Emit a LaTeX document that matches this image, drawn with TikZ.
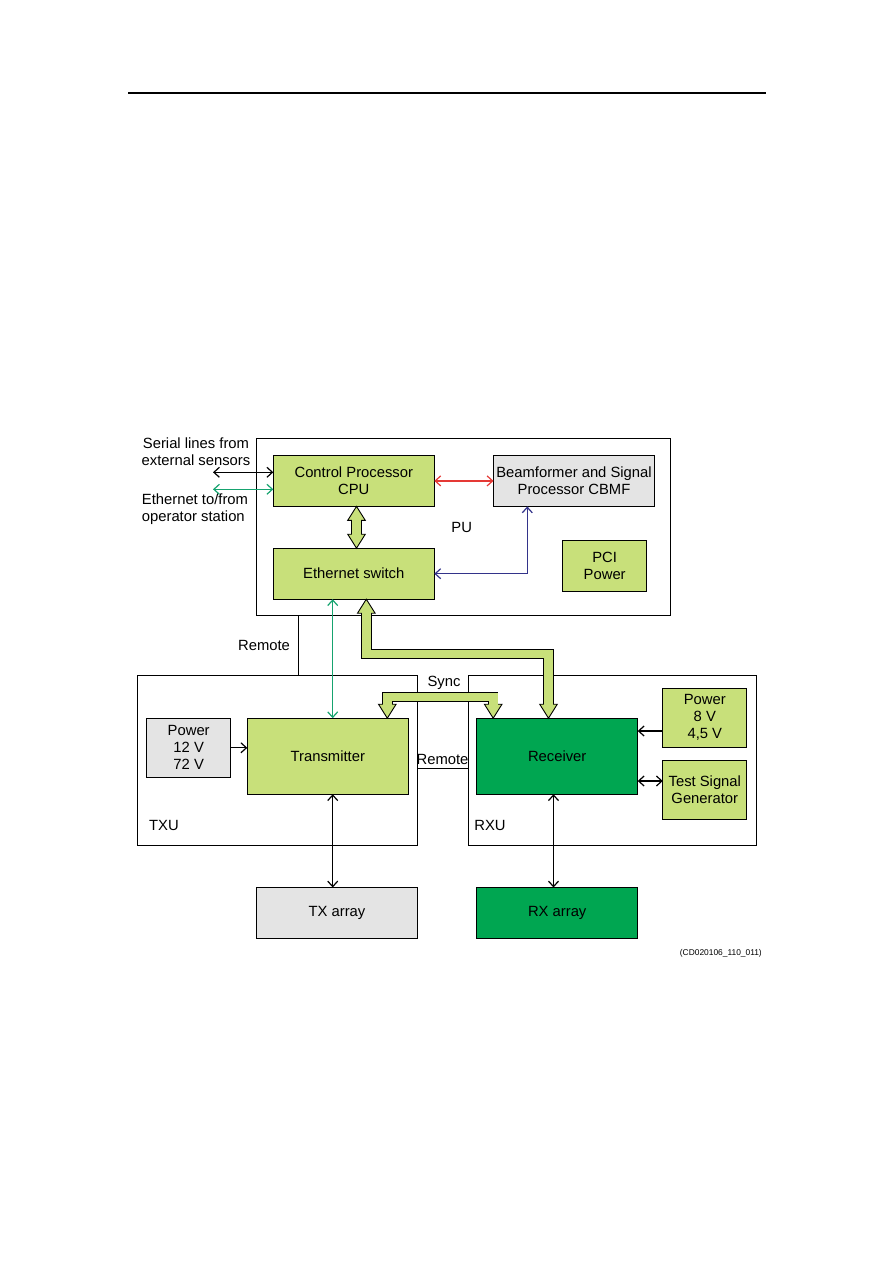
\documentclass[tikz,border=0pt]{standalone}
\usepackage{fontspec}
\setmainfont{Liberation Sans}
\usetikzlibrary{arrows.meta,positioning,calc}
\definecolor{lgreen}{HTML}{C8E07A}
\definecolor{dgreen}{HTML}{00A651}
\definecolor{lgray}{HTML}{E4E4E4}
\definecolor{ethgreen}{HTML}{16A36F}
\definecolor{navy}{HTML}{33338A}
\definecolor{linkred}{HTML}{E53935}
\newcommand{\bigf}{\fontsize{14.8}{17}\selectfont}
\newcommand{\tinyf}{\fontsize{8.4}{10}\selectfont}
\tikzset{
  blk/.style={draw, line width=0.9pt, inner sep=0pt, outer sep=0pt, align=center, font=\bigf},
  wide/.style={blk, minimum width=161pt, minimum height=51pt},
  tall/.style={blk, minimum width=161pt, minimum height=76pt},
  side/.style={blk, minimum width=84pt, minimum height=59pt},
  unitbox/.style={draw, line width=0.9pt, inner sep=0pt, outer sep=0pt},
  lbl/.style={font=\bigf, inner sep=0pt, align=center},
  link/.style={line width=1.2pt, <->},
  fatedge/.style={line width=10.4pt, line join=miter, draw=black},
  fatfill/.style={line width=8.6pt, line join=miter, draw=lgreen},
  pics/fathead/.style={code={
    \filldraw[fill=lgreen, draw=black, line width=0.9pt, line join=miter]
      (0,0) -- (-8.8,-14) -- (8.8,-14) -- cycle;}}
}
\begin{document}
\begin{tikzpicture}[x=1pt,y=-1pt,>={Straight Barb[length=5.5pt,width=10pt]}]
  \useasboundingbox (0,0) rectangle (893,1263);
  \draw[line width=1.3pt] (128,93) -- (766,93);

  % units
  \node[unitbox, minimum width=414pt, minimum height=177pt] (pu) at (463.7,527) {};
  \node[unitbox, minimum width=280pt, minimum height=170pt] (txu) at (277.3,760) {};
  \node[unitbox, minimum width=288pt, minimum height=170pt] (rxu) at (612.5,760) {};
  \node[lbl] at (461.7,527) {PU};
  \node[lbl] at (164,825) {TXU};
  \node[lbl] at (490,825) {RXU};

  % processing unit
  \node[wide, fill=lgreen] (cpu) at (353.8,480.9) {Control Processor\\CPU};
  \node[wide, fill=lgray] (cbmf) at (574,480.9) {Beamformer and Signal\\Processor CBMF};
  \node[wide, fill=lgreen] (sw) at (353.8,573.7) {Ethernet switch};
  \node[blk, fill=lgreen, minimum width=84pt, minimum height=51pt] (pci) at (604.7,566.2) {PCI\\Power};

  % transmitter / receiver side
  \node[side, fill=lgray] (pwrtx) at (188.7,747.8) {Power\\12 V\\72 V};
  \node[tall, fill=lgreen] (tx) at (327.8,756.2) {Transmitter};
  \node[tall, fill=dgreen] (rx) at (557.2,756.2) {Receiver};
  \node[side, fill=lgreen] (pwrrx) at (704.8,717.8) {Power\\8 V\\4,5 V};
  \node[side, fill=lgreen] (tsg) at (704.8,789.5) {Test Signal\\Generator};
  \node[wide, fill=lgray] (txa) at (337,913) {TX array};
  \node[wide, fill=dgreen] (rxa) at (557.2,913) {RX array};

  % external lines
  \node[lbl] (serial) at (196,451.5) {Serial lines from\\external sensors};
  \node[lbl, align=left, anchor=west] (opst) at (141.7,509.4) {Ethernet to/from\\operator station};
  \coordinate (ser) at (213,472.3);
  \coordinate (eth) at (213,489.3);
  \draw[link] (ser) -- (ser -| cpu.west);
  \draw[link, ethgreen] (eth) -- (eth -| cpu.west);

  % links inside PU
  \draw[link, linkred] (cpu.east) -- (cbmf.west);
  \draw[link, navy] (sw.east) -| ($(cbmf.south)+(-46.7,0)$);

  % remote lines
  \coordinate (rv) at (298.3,0);
  \coordinate (rl) at (0,768);
  \draw[line width=0.9pt] (pu.south -| rv) -- (txu.north -| rv);
  \draw[line width=0.9pt] (txu.east |- rl) -- (rxu.west |- rl);
  \node[lbl] at (264,645) {Remote};
  \node[lbl] at (442.5,759) {Remote};
  \node[lbl] at (444,683) {Sync};

  % thin links
  \coordinate (ex) at (332.7,0);
  \coordinate (rxx) at (553.5,0);
  \coordinate (pr) at (0,731);
  \coordinate (tg) at (0,781);
  \draw[link, ethgreen] (sw.south -| ex) -- (tx.north -| ex);
  \draw[line width=1.2pt, ->] (pwrtx.east) -- (pwrtx.east -| tx.west);
  \draw[line width=1.2pt, ->] (pwrrx.west |- pr) -- (rx.east |- pr);
  \draw[link] (tsg.west |- tg) -- (rx.east |- tg);
  \draw[link] (tx.south -| ex) -- (txa.north -| ex);
  \draw[link] (rx.south -| rxx) -- (rxa.north -| rxx);

  % fat arrow CPU - switch
  \coordinate (cs1) at ($(cpu.south)+(2.7,0)$);
  \coordinate (cs2) at ($(sw.north)+(2.7,0)$);
  \draw[fatedge] ($(cs1)+(0,14)$) -- ($(cs2)+(0,-14)$);
  \pic[rotate=180] at (cs1) {fathead};
  \pic at (cs2) {fathead};
  \draw[fatfill] ($(cs1)+(0,12.5)$) -- ($(cs2)+(0,-12.5)$);

  % fat arrow switch - receiver
  \coordinate (b1) at ($(sw.south)+(12.5,0)$);
  \coordinate (b2) at ($(rx.north)+(-8.7,0)$);
  \coordinate (by) at (0,654);
  \draw[fatedge] ($(b1)+(0,14)$) -- (b1 |- by) -| ($(b2)+(0,-14)$);
  \pic[rotate=180] at (b1) {fathead};
  \pic at (b2) {fathead};
  \draw[fatfill] ($(b1)+(0,12.5)$) -- (b1 |- by) -| ($(b2)+(0,-12.5)$);

  % sync
  \coordinate (s1) at ($(tx.north)+(59.5,0)$);
  \coordinate (s2) at ($(rx.north)+(-64,0)$);
  \coordinate (sy) at (0,697);
  \draw[fatedge] ($(s1)+(0,-14)$) -- (s1 |- sy) -| ($(s2)+(0,-14)$);
  \pic at (s1) {fathead};
  \pic at (s2) {fathead};
  \draw[fatfill] ($(s1)+(0,-12.5)$) -- (s1 |- sy) -| ($(s2)+(0,-12.5)$);

  \node[inner sep=0pt, font=\tinyf, anchor=east] (code) at (762,953) {(CD020106\_110\_011)};
\end{tikzpicture}
\end{document}
